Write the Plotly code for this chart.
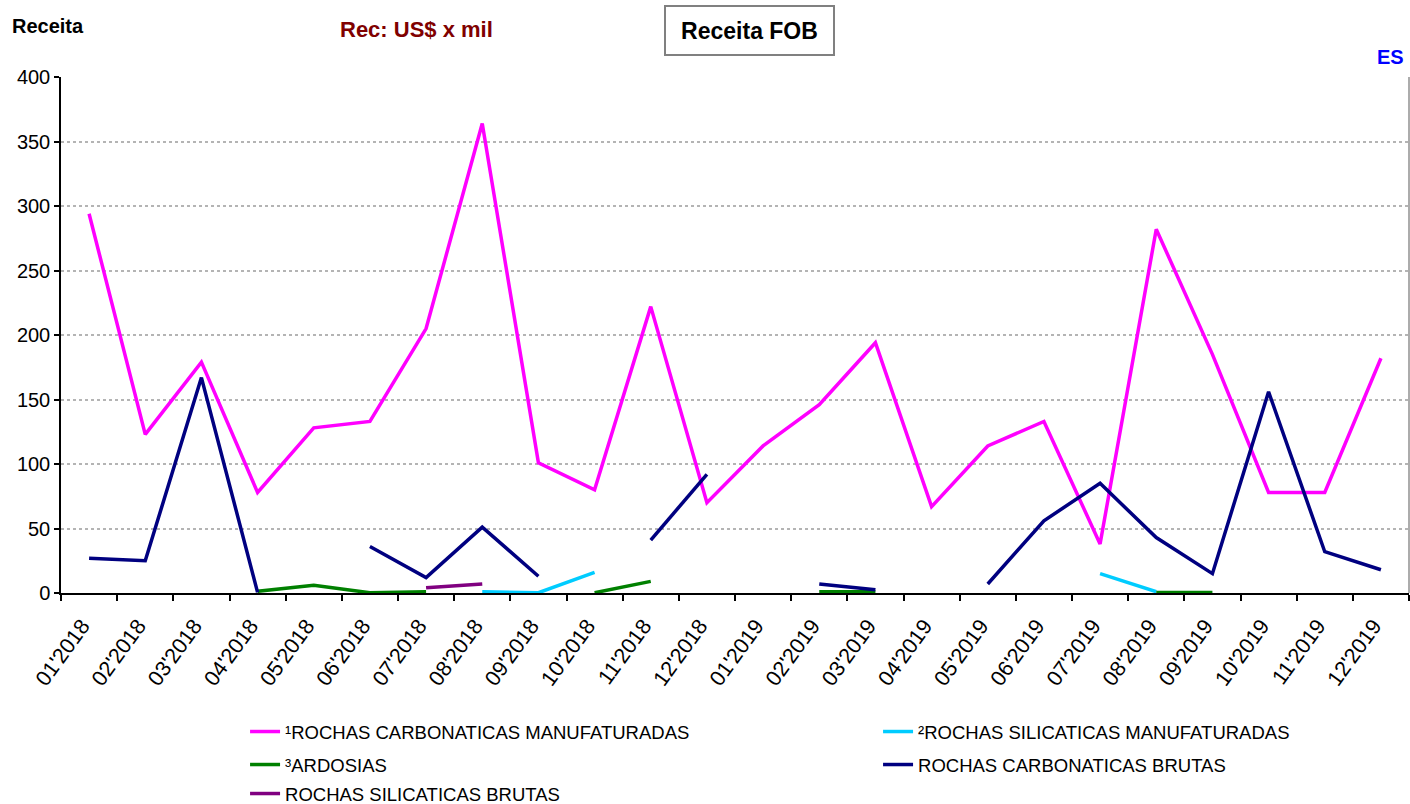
import plotly.graph_objects as go

months = ["01'2018", "02'2018", "03'2018", "04'2018", "05'2018", "06'2018",
          "07'2018", "08'2018", "09'2018", "10'2018", "11'2018", "12'2018",
          "01'2019", "02'2019", "03'2019", "04'2019", "05'2019", "06'2019",
          "07'2019", "08'2019", "09'2019", "10'2019", "11'2019", "12'2019"]

# Receita FOB (US$ x mil), None = sem registro
carb_manuf = [294, 123, 179, 78, 128, 133, 205, 364, 101, 80, 222, 70,
              114, 146, 194, 67, 114, 133, 38, 282, 185, 78, 78, 182]
silic_manuf = [None, None, None, None, None, None, None, 1, 0.2, 16, None, None,
               None, None, None, None, None, None, 15, 1, None, None, None, None]
ardosias = [None, None, None, 1.3, 6, 0.2, 1, None, None, 0.2, 9, None,
            None, 1, 1, None, None, None, None, 0.3, 0.3, None, None, None]
carb_brutas = [27, 25, 167, 0.5, None, 36, 12, 51, 13, None, 41, 92,
               None, 7, 2.5, None, 7, 56, 85, 43, 15, 156, 32, 18]
silic_brutas = [None, None, None, None, None, None, 4, 7, None, None, None, None,
                None, None, None, None, None, None, None, None, None, None, None, None]

series = [
    ("¹ROCHAS CARBONATICAS MANUFATURADAS", carb_manuf, "#FF00FF", "legend"),
    ("²ROCHAS SILICATICAS MANUFATURADAS", silic_manuf, "#00CCFF", "legend"),
    ("³ARDOSIAS", ardosias, "#008000", "legend2"),
    ("ROCHAS CARBONATICAS BRUTAS", carb_brutas, "#000080", "legend2"),
    ("ROCHAS SILICATICAS BRUTAS", silic_brutas, "#800080", "legend3"),
]

fig = go.Figure()
for name, vals, color, leg in series:
    fig.add_trace(go.Scatter(x=months, y=vals, name=name, mode="lines",
                             line=dict(color=color, width=3.5),
                             connectgaps=False, legend=leg))

font = "Liberation Sans, Arial, sans-serif"
leg_common = dict(orientation="h", xref="container", yref="container",
                  x=0.1738, xanchor="left", yanchor="middle",
                  entrywidth=588, entrywidthmode="pixels",
                  font=dict(family=font, size=18.5, color="black"),
                  bgcolor="rgba(0,0,0,0)")

# labels padded with no-break spaces so the rotated text sits lower, as in the original
tick_labels = [m + "\u00a0\u00a0" for m in months]

fig.update_layout(
    width=1410, height=804,
    margin=dict(l=61, r=1, t=77, b=211, autoexpand=False),
    paper_bgcolor="white", plot_bgcolor="white",
    font=dict(family=font, size=18, color="black"),
    showlegend=True,
    legend=dict(leg_common, y=1 - 732 / 804),
    legend2=dict(leg_common, y=1 - 765 / 804),
    legend3=dict(leg_common, y=1 - 794 / 804),
    xaxis=dict(type="category", tickson="boundaries", ticks="outside",
               ticklen=6, tickwidth=1.5, tickcolor="black",
               showline=True, linecolor="black", linewidth=2,
               showgrid=False, tickangle=-54, range=[-0.5, 23.5],
               tickmode="array", tickvals=months, ticktext=tick_labels,
               tickfont=dict(family=font, size=21.5, color="black")),
    yaxis=dict(range=[0, 400], dtick=50, ticks="outside", ticklen=5,
               tickwidth=1.5, tickcolor="black",
               showline=True, linecolor="black", linewidth=1.5,
               showgrid=True, gridcolor="#B4B4B4", gridwidth=1.5,
               griddash="3px,3px", zeroline=False,
               tickfont=dict(family=font, size=20, color="black")),
    shapes=[dict(type="line", xref="paper", yref="paper", x0=1, x1=1, y0=0, y1=1,
                 line=dict(color="#909090", width=1.5))],
    annotations=[
        dict(text="<b>Receita</b>", xref="paper", yref="paper",
             x=-0.0378, y=1.0979, xanchor="left", yanchor="middle",
             showarrow=False, font=dict(family=font, size=20, color="black")),
        dict(text="<b>Rec: US$ x mil</b>", xref="paper", yref="paper",
             x=0.2634, y=1.0921, xanchor="center", yanchor="middle",
             showarrow=False, font=dict(family=font, size=22, color="#800000")),
        dict(text="<b>Receita FOB</b>", xref="paper", yref="paper",
             x=0.5108, y=1.0901, xanchor="center", yanchor="middle",
             showarrow=False, width=163, height=43, borderpad=2,
             bordercolor="#808080", borderwidth=2,
             font=dict(family=font, size=23, color="black")),
        dict(text="<b>ES</b>", xref="paper", yref="paper",
             x=0.9978, y=1.0378, xanchor="right", yanchor="middle",
             showarrow=False, font=dict(family=font, size=20, color="#0000FF")),
    ],
)

fig.write_html("out.html", config={"displayModeBar": False},
               post_script="document.body.style.margin='0';")
